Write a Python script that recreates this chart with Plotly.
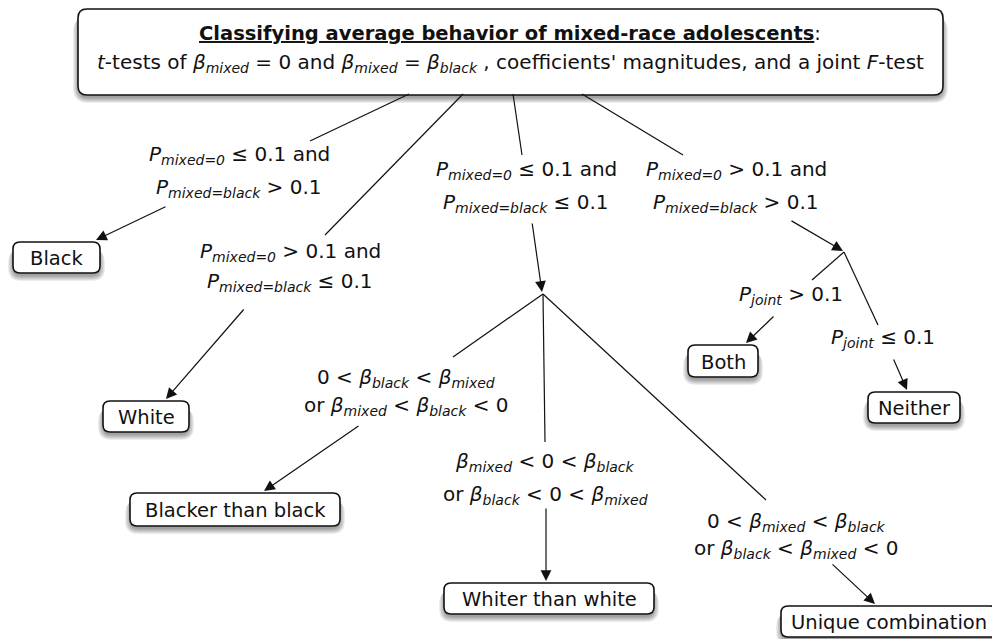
import plotly.graph_objects as go

# ---------------- data (text content) ----------------
title_line1 = ("<b><span style='text-decoration:underline'>Classifying average behavior of "
               "mixed-race adolescents</span></b>:")
title_line2 = ("<i>t</i>-tests of <i>β<sub>mixed</sub></i> = 0 and <i>β<sub>mixed</sub></i> = "
               "<i>β<sub>black</sub></i> , coefficients' magnitudes, and a joint <i>F</i>-test")

outcome_labels = ["Black", "White", "Blacker than black", "Whiter than white",
                  "Unique combination", "Both", "Neither"]

P0 = "<i>P<sub>mixed=0</sub></i>"
PB = "<i>P<sub>mixed=black</sub></i>"
PJ = "<i>P<sub>joint</sub></i>"
BM = "<i>β<sub>mixed</sub></i>"
BB = "<i>β<sub>black</sub></i>"

condition_labels = [
    [P0 + " ≤ 0.1 and", PB + " > 0.1"],
    [P0 + " > 0.1 and", PB + " ≤ 0.1"],
    [P0 + " ≤ 0.1 and", PB + " ≤ 0.1"],
    [P0 + " > 0.1 and", PB + " > 0.1"],
    [PJ + " > 0.1"],
    [PJ + " ≤ 0.1"],
    ["0 < " + BB + " < " + BM, "or " + BM + " < " + BB + " < 0"],
    [BM + " < 0 < " + BB, "or " + BB + " < 0 < " + BM],
    ["0 < " + BM + " < " + BB, "or " + BB + " < " + BM + " < 0"],
]

# ---------------- layout (pixel positions) ----------------
top_box = (78, 943, 9, 95)
title_y = [33, 63]
title_x = 510

box_x0 = [13, 103, 130, 444, 781, 688, 868]
box_x1 = [100, 189, 340, 654, 997, 758, 960]
box_y0 = [242, 401, 493, 583, 606, 345, 392]
box_y1 = [273, 432, 526, 614, 637, 377, 423]

cond_x = [239, 290, 526, 736, 791, 883, 406, 545, 796]
cond_y = [[155, 188], [252, 282], [170, 203], [170, 203], [295], [338],
          [378, 406], [462, 495], [522, 549]]

line_from = [(409, 94), (463, 94), (513, 94), (582, 94), (844, 252), (844, 252),
             (543, 294), (543, 294), (543, 294)]
line_to = [(310, 141), (325, 235), (522, 155), (683, 155), (812, 280), (878, 325),
           (453, 357), (545, 442), (766, 500)]

arrow_tail = [(167, 206), (245, 308), (532, 222), (790, 220), (775, 315), (893, 358),
              (360, 425), (546, 507), (831, 563)]
arrow_tip = [(96, 240), (166, 399), (542, 292), (843, 251), (746, 343), (907, 390),
             (264, 491), (546, 581), (875, 604)]

FONT = "DejaVu Sans, Liberation Sans, Arial, sans-serif"
PAGE_OFFSET = 8  # browser body margin


def rrect(x0, x1, y0, y1, r=7):
    return (f"M {x0+r},{y0} L {x1-r},{y0} Q {x1},{y0} {x1},{y0+r} "
            f"L {x1},{y1-r} Q {x1},{y1} {x1-r},{y1} L {x0+r},{y1} "
            f"Q {x0},{y1} {x0},{y1-r} L {x0},{y0+r} Q {x0},{y0} {x0+r},{y0} Z")


fig = go.Figure()
fig.add_trace(go.Scatter(x=[0, 1000], y=[0, 639], mode="markers",
                         marker=dict(opacity=0), hoverinfo="skip", showlegend=False))

shapes = []


def add_box(x0, x1, y0, y1, r=7):
    for i in range(6, 0, -1):
        shapes.append(dict(type="path", xref="x", yref="y", layer="below",
                           path=rrect(x0 - i + 1, x1 + i - 1, y0 + 2 + i, y1 + 2 + i, r + i),
                           fillcolor="rgba(0,0,0,0.07)", line=dict(width=0)))
    shapes.append(dict(type="path", xref="x", yref="y", layer="below",
                       path=rrect(x0, x1, y0, y1, r), fillcolor="white",
                       line=dict(color="#111111", width=1.6)))


add_box(*top_box, r=9)
for x0, x1, y0, y1 in zip(box_x0, box_x1, box_y0, box_y1):
    add_box(x0, x1, y0, y1)

for (xa, ya), (xb, yb) in zip(line_from, line_to):
    shapes.append(dict(type="line", xref="x", yref="y", x0=xa, y0=ya, x1=xb, y1=yb,
                       line=dict(color="#111111", width=1.2)))

annotations = []
annotations.append(dict(x=title_x, y=title_y[0], text=title_line1, showarrow=False,
                        xref="x", yref="y", font=dict(size=19.5, family=FONT, color="#111")))
annotations.append(dict(x=title_x, y=title_y[1], text=title_line2, showarrow=False,
                        xref="x", yref="y", font=dict(size=20, family=FONT, color="#111")))

for lab, x0, x1, y0, y1 in zip(outcome_labels, box_x0, box_x1, box_y0, box_y1):
    annotations.append(dict(x=(x0 + x1) / 2, y=(y0 + y1) / 2 + 1, text=lab, showarrow=False,
                            xref="x", yref="y",
                            font=dict(size=19.5, family=FONT, color="#111")))

for lines, cx, ys in zip(condition_labels, cond_x, cond_y):
    for txt, yy in zip(lines, ys):
        annotations.append(dict(x=cx, y=yy, text=txt, showarrow=False, xref="x", yref="y",
                                font=dict(size=20, family=FONT, color="#111")))

for (tx, ty), (hx, hy) in zip(arrow_tail, arrow_tip):
    annotations.append(dict(x=hx, y=hy, ax=tx, ay=ty, xref="x", yref="y", axref="x",
                            ayref="y", text="", showarrow=True, arrowhead=2,
                            arrowsize=1.8, arrowwidth=1.2, arrowcolor="#111111",
                            standoff=0, startstandoff=0))

fig.update_layout(
    width=1000, height=639, margin=dict(l=0, r=0, t=0, b=0),
    paper_bgcolor="white", plot_bgcolor="white",
    xaxis=dict(range=[PAGE_OFFSET, 1000 + PAGE_OFFSET], visible=False, fixedrange=True),
    yaxis=dict(range=[639 + PAGE_OFFSET, PAGE_OFFSET], visible=False, fixedrange=True),
    shapes=shapes, annotations=annotations, showlegend=False,
)
fig.write_html("out.html")
